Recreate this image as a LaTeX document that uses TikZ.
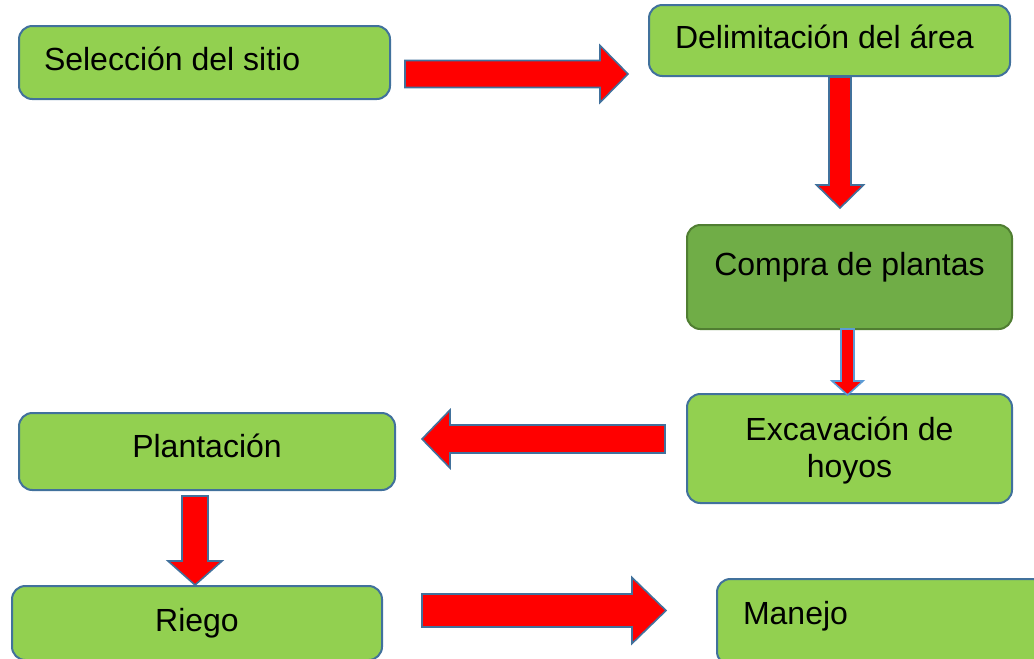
\documentclass[tikz,border=0pt]{standalone}
\usepackage{fontspec}
\setmainfont{Liberation Sans}
\usetikzlibrary{positioning,calc}

\definecolor{boxgreen}{RGB}{146,208,80}
\definecolor{boxdark}{RGB}{112,173,71}
\definecolor{darkline}{RGB}{80,126,50}
\definecolor{blueline}{RGB}{65,113,156}
\definecolor{lightline}{RGB}{91,155,213}

\tikzset{
  stepbox/.style={draw=blueline, fill=boxgreen, line width=1.5pt, rounded corners=10pt,
    inner sep=0pt, text height=17pt, text depth=5pt, align=center,
    font=\fontsize{24}{27.75}\selectfont},
  redarrow/.style={draw=blueline, fill=red, line width=1.2pt, line join=miter},
}

% block arrow: [style] from, to, shaft half width, head half width, head length
\newcommand{\bigarrow}[6][]{%
  \coordinate (ba) at ($(#3)!#6!(#2)$);
  \draw[redarrow,#1] ($(#2)!#4!90:(#3)$) -- ($(ba)!#4!90:(#3)$) -- ($(ba)!#5!90:(#3)$)
    -- (#3) -- ($(ba)!#5!-90:(#3)$) -- ($(ba)!#4!-90:(#3)$) -- ($(#2)!#4!-90:(#3)$) -- cycle;
}

\begin{document}
\begin{tikzpicture}[x=0.75pt,y=0.75pt,yscale=-1,xscale=1]
\useasboundingbox (0,0) rectangle (1034,658);
\clip (0,0) rectangle (1034,658);

%Boxes
\node[stepbox, minimum height=54.75pt, text width=240.75pt, inner xsep=18.75pt, align=flush left] (sitio) at (204.5,62.5) {Selección del sitio};
\node[stepbox, minimum height=53.25pt, text width=231.75pt, inner xsep=19.5pt, align=flush left] (area) at (829.5,40.5) {Delimitación del área};
\node[stepbox, fill=boxdark, draw=darkline, minimum width=243.75pt, minimum height=78pt, text depth=20pt] (compra) at (849.5,277) {Compra de plantas};
\node[stepbox, minimum width=243.75pt, minimum height=81.75pt, text height=44.75pt, text depth=1pt] (hoyos) at (849.5,448.5) {Excavación de\\hoyos};
\node[stepbox, minimum width=282pt, minimum height=57.75pt, text depth=8pt] (plant) at (207,451.5) {Plantación};
\node[stepbox, minimum width=277.5pt, minimum height=55.5pt] (riego) at (197,623) {Riego};
\node[stepbox, minimum height=64.5pt, text width=207pt, inner xsep=19.5pt, align=flush left, text depth=14pt] (manejo) at (881,622) {Manejo};

%Arrow ends
\coordinate (a1s) at (405,74);   \coordinate (a1e) at (628,74);
\coordinate (a2s) at (840,77);   \coordinate (a2e) at (840,208);
\coordinate (a3s) at (847.5,329); \coordinate (a3e) at (847.5,395);
\coordinate (a4s) at (665,439);  \coordinate (a4e) at (422,439);
\coordinate (a5s) at (195,496);  \coordinate (a5e) at (195,585);
\coordinate (a6s) at (422,610.5); \coordinate (a6e) at (666,610.5);

%Arrows
\bigarrow{a1s}{a1e}{10.1pt}{21.4pt}{21pt}
\bigarrow{a2s}{a2e}{8.25pt}{17.6pt}{17.25pt}
\bigarrow[draw=lightline]{a3s}{a3e}{4.9pt}{11.6pt}{10.5pt}
\bigarrow{a4s}{a4e}{10.5pt}{21.75pt}{21pt}
\bigarrow{a5s}{a5e}{9.75pt}{20.25pt}{18pt}
\bigarrow{a6s}{a6e}{12.4pt}{24.75pt}{25.5pt}

\end{tikzpicture}
\end{document}
